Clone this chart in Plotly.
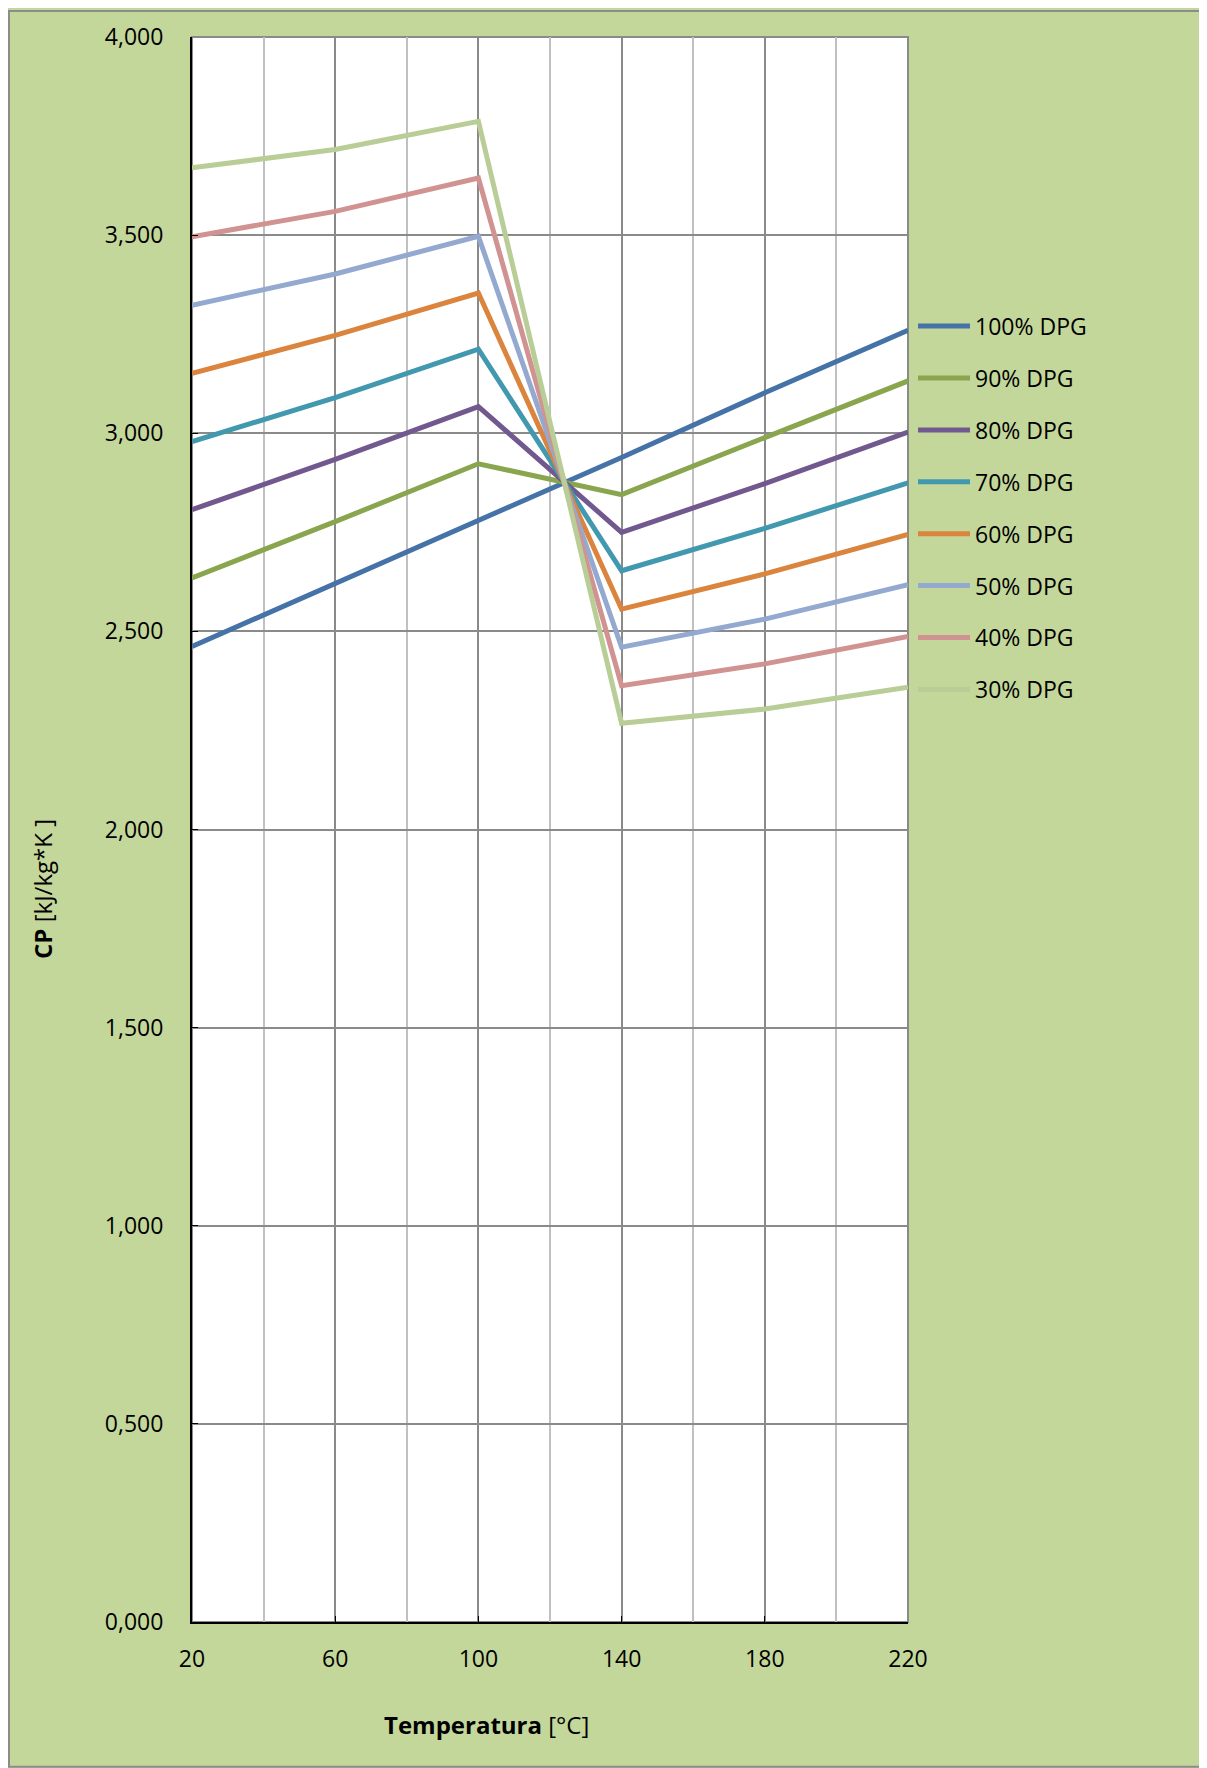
import plotly.graph_objects as go

# temperatures [°C] and Cp [kJ/kg*K]
temps = [20, 60, 100, 140, 180, 220]

series_names = ["100% DPG", "90% DPG", "80% DPG", "70% DPG",
                "60% DPG", "50% DPG", "40% DPG", "30% DPG"]

cp_100 = [2.462, 2.621, 2.781, 2.939, 3.102, 3.260]
cp_90 = [2.635, 2.777, 2.923, 2.845, 2.989, 3.132]
cp_80 = [2.807, 2.934, 3.067, 2.750, 2.873, 3.003]
cp_70 = [2.979, 3.090, 3.212, 2.653, 2.760, 2.875]
cp_60 = [3.151, 3.247, 3.354, 2.556, 2.645, 2.745]
cp_50 = [3.323, 3.402, 3.497, 2.460, 2.531, 2.618]
cp_40 = [3.496, 3.560, 3.644, 2.363, 2.418, 2.487]
cp_30 = [3.670, 3.716, 3.787, 2.268, 2.304, 2.359]

colors = ["#4572A7", "#89A54E", "#71588F", "#4198AF",
          "#DB843D", "#93A9CF", "#D19392", "#B9CD96"]

all_cp = [cp_100, cp_90, cp_80, cp_70, cp_60, cp_50, cp_40, cp_30]

# page is 1207x1768 but the page body has an 8px margin
OFF = 8
W, H = 1207 - OFF, 1768 - OFF
L, R, T, B = 192 - OFF, 299, 35 - OFF, 146
PW, PH = W - L - R, H - T - B


def px_x(x):
    # page pixel -> paper coordinate
    return (x - OFF - L) / PW


def px_y(y):
    return (H - B - (y - OFF)) / PH


FONT = "Open Sans, Lato, sans-serif"

fig = go.Figure()
for i, (name, vals) in enumerate(zip(series_names, all_cp)):
    fig.add_trace(go.Scatter(
        x=temps, y=vals, name=name, mode="lines",
        line=dict(color=colors[i], width=5),
        legendgroup=name,
    ))

fig.update_layout(
    width=W, height=H,
    margin=dict(l=L, r=R, t=T, b=B),
    paper_bgcolor="#C4D79B",
    plot_bgcolor="white",
    separators=",.",
    font=dict(family=FONT, size=23, color="black"),
    legend=dict(
        x=px_x(913), y=px_y(303), xanchor="left", yanchor="top",
        bgcolor="rgba(0,0,0,0)", tracegroupgap=19,
        font=dict(size=23), itemwidth=52,
    ),
    xaxis=dict(
        range=[20, 220], tick0=20, dtick=40,
        showgrid=True, gridcolor="#8A8A8A", gridwidth=2,
        minor=dict(dtick=20, tick0=20, showgrid=True, gridcolor="#C0C0C0", gridwidth=2),
        showline=True, linecolor="black", linewidth=2,
        ticks="inside", ticklen=6, tickcolor="black",
        ticklabelstandoff=15, zeroline=False,
    ),
    yaxis=dict(
        range=[0, 4], dtick=0.5, tickformat=".3f",
        showgrid=True, gridcolor="#8A8A8A", gridwidth=2,
        showline=True, linecolor="black", linewidth=2,
        ticks="inside", ticklen=6, tickcolor="black",
        ticklabelstandoff=22, zeroline=False,
    ),
    annotations=[
        dict(text="<b>CP</b> [kJ/kg*K ]", textangle=-90,
             x=px_x(43), y=px_y(888), xref="paper", yref="paper",
             xanchor="center", yanchor="middle",
             showarrow=False, font=dict(size=24)),
        dict(text="<b>Temperatura</b> [°C]",
             x=px_x(486), y=px_y(1725), xref="paper", yref="paper",
             xanchor="center", yanchor="middle",
             showarrow=False, font=dict(size=24)),
    ],
    shapes=[
        dict(type="rect", xref="paper", yref="paper",
             x0=px_x(OFF + 1), x1=px_x(1206), y0=px_y(1767), y1=px_y(OFF + 1),
             line=dict(color="#8C8C8C", width=2), layer="below"),
        dict(type="rect", xref="paper", yref="paper",
             x0=0, x1=1, y0=0, y1=1,
             line=dict(color="#8A8A8A", width=2), layer="below"),
    ],
)

fig.write_html("out.html")
